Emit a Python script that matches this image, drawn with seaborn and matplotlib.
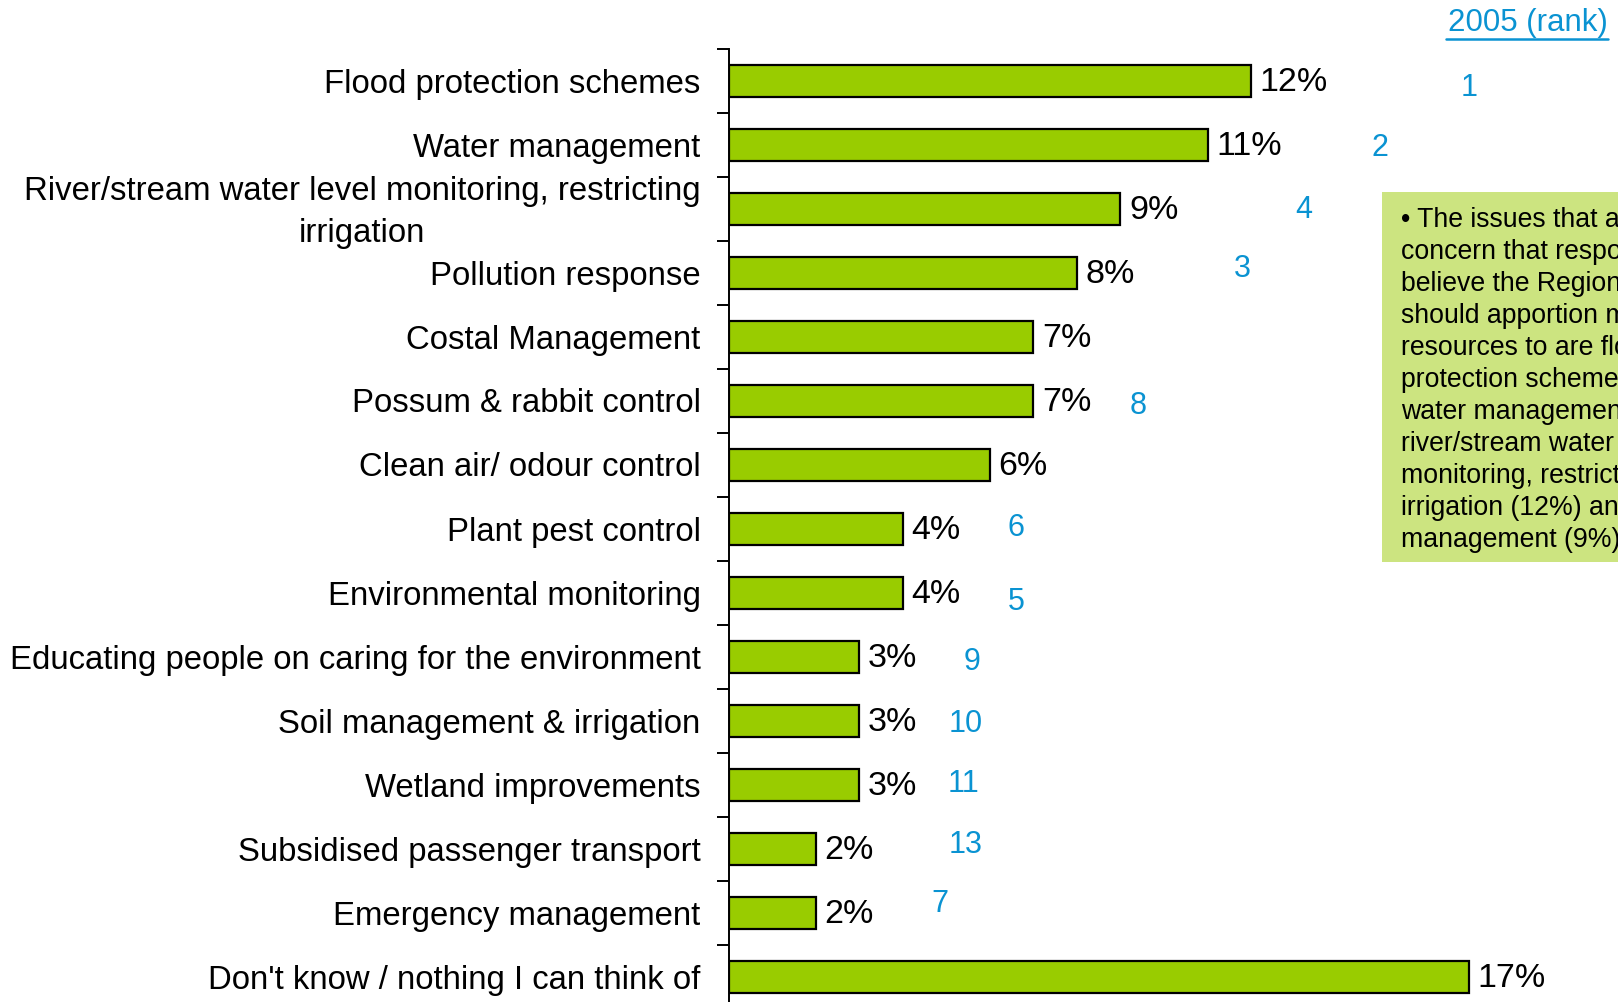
import matplotlib
matplotlib.use("Agg")
import matplotlib.pyplot as plt
from matplotlib import font_manager
from matplotlib.transforms import ScaledTranslation
import seaborn as sns
import pandas as pd
import numpy as np

categories = [
    "Flood protection schemes",
    "Water management",
    "River/stream water level monitoring, restricting\nirrigation",
    "Pollution response",
    "Costal Management",
    "Possum & rabbit control",
    "Clean air/ odour control",
    "Plant pest control",
    "Environmental monitoring",
    "Educating people on caring for the environment",
    "Soil management & irrigation",
    "Wetland improvements",
    "Subsidised passenger transport",
    "Emergency management",
    "Don't know / nothing I can think of",
]
percent = [12, 11, 9, 8, 7, 7, 6, 4, 4, 3, 3, 3, 2, 2, 17]
rank_2005 = ["1", "2", "4", "3", "", "8", "", "6", "5", "9", "10", "11", "13", "7", ""]

# placement of the 2005 rank column (x in % units, y offset in category units)
rank_x = [17.0, 14.95, 13.2, 11.8, 0, 9.4, 0, 6.6, 6.6, 5.6, 5.45, 5.4, 5.45, 4.85, 0]
rank_dy = [0.11, 0.05, 0.02, -0.05, 0, 0.08, 0, -0.01, 0.15, 0.08, 0.05, 0.0, -0.06, -0.13, 0]

note_lines = [
    "\u2022 The issues that are of most",
    "concern that respondents",
    "believe the Regional Council",
    "should apportion more",
    "resources to are flood",
    "protection schemes (12%),",
    "water management (11%),",
    "river/stream water level",
    "monitoring, restricting",
    "irrigation (12%) and water",
    "management (9%)",
]

sns.set_theme(style="white")
names = {f.name for f in font_manager.fontManager.ttflist}
family = "Liberation Sans" if "Liberation Sans" in names else "DejaVu Sans"
plt.rcParams["font.family"] = [family, "DejaVu Sans"]

W, H = 1618, 1002
fig = plt.figure(figsize=(W / 100, H / 100), dpi=100)
fig.patch.set_facecolor("white")

ax_left = 728.5 / W
ax_top = 48.5
cat_h = 64.0
n = len(categories)
ax_h = cat_h * n
ax = fig.add_axes([ax_left, (H - ax_top - ax_h) / H, 871.0 / W, ax_h / H])

df = pd.DataFrame({"cat": categories, "pct": percent})
sns.barplot(data=df, x="pct", y="cat", orient="h", color="#99CC00", saturation=1,
            width=0.5, edgecolor="black", linewidth=1.6, ax=ax)

ax.set_xlim(0, 20)
ax.set_ylim(n - 0.5, -0.5)
ax.set_xlabel("")
ax.set_ylabel("")
ax.set_xticks([])
for s in ["top", "right", "bottom"]:
    ax.spines[s].set_visible(False)
ax.spines["left"].set_color("black")
ax.spines["left"].set_linewidth(1.4)

ax.set_yticks(range(n))
ax.set_yticklabels(categories, fontsize=23.7, color="black", multialignment="center",
                   linespacing=1.45)
ax.tick_params(axis="y", which="major", length=0, pad=20)
ax.set_yticks(np.arange(-0.5, n, 1.0), minor=True)
ax.tick_params(axis="y", which="minor", length=8.6, width=1.4, color="black", left=True)

# nudge the two-line label up a little
for lab in ax.get_yticklabels():
    if "\n" in lab.get_text():
        lab.set_transform(lab.get_transform() + ScaledTranslation(0, 0.05, fig.dpi_scale_trans))

for i, v in enumerate(percent):
    ax.text(v + 0.2, i + 0.03, f"{v}%", va="center", ha="left", fontsize=24.5, color="black")

for i, r in enumerate(rank_2005):
    if r:
        ax.text(rank_x[i], i + rank_dy[i], r, va="center", ha="center",
                fontsize=22, color="#0A93D2")

fig.text(1608 / W, 1 - 22.7 / H, "2005 (rank)", ha="right", va="center",
         fontsize=22.5, color="#0A93D2")
# underline under the header
fig.add_artist(plt.Line2D([1446 / W, 1608 / W], [1 - 39 / H, 1 - 39 / H],
                          color="#0A93D2", linewidth=1.8))

# commentary box on the right
box = matplotlib.patches.Rectangle((1382 / W, 1 - 562 / H), (W - 1382) / W + 0.01,
                                   (562 - 192) / H, transform=fig.transFigure,
                                   facecolor="#CCE480", edgecolor="none")
fig.add_artist(box)
for k, line in enumerate(note_lines):
    fig.text(1401 / W, 1 - (220 + 32 * k) / H, line, ha="left", va="center",
             fontsize=19.2, color="black")

fig.savefig("out.png", dpi=100)
